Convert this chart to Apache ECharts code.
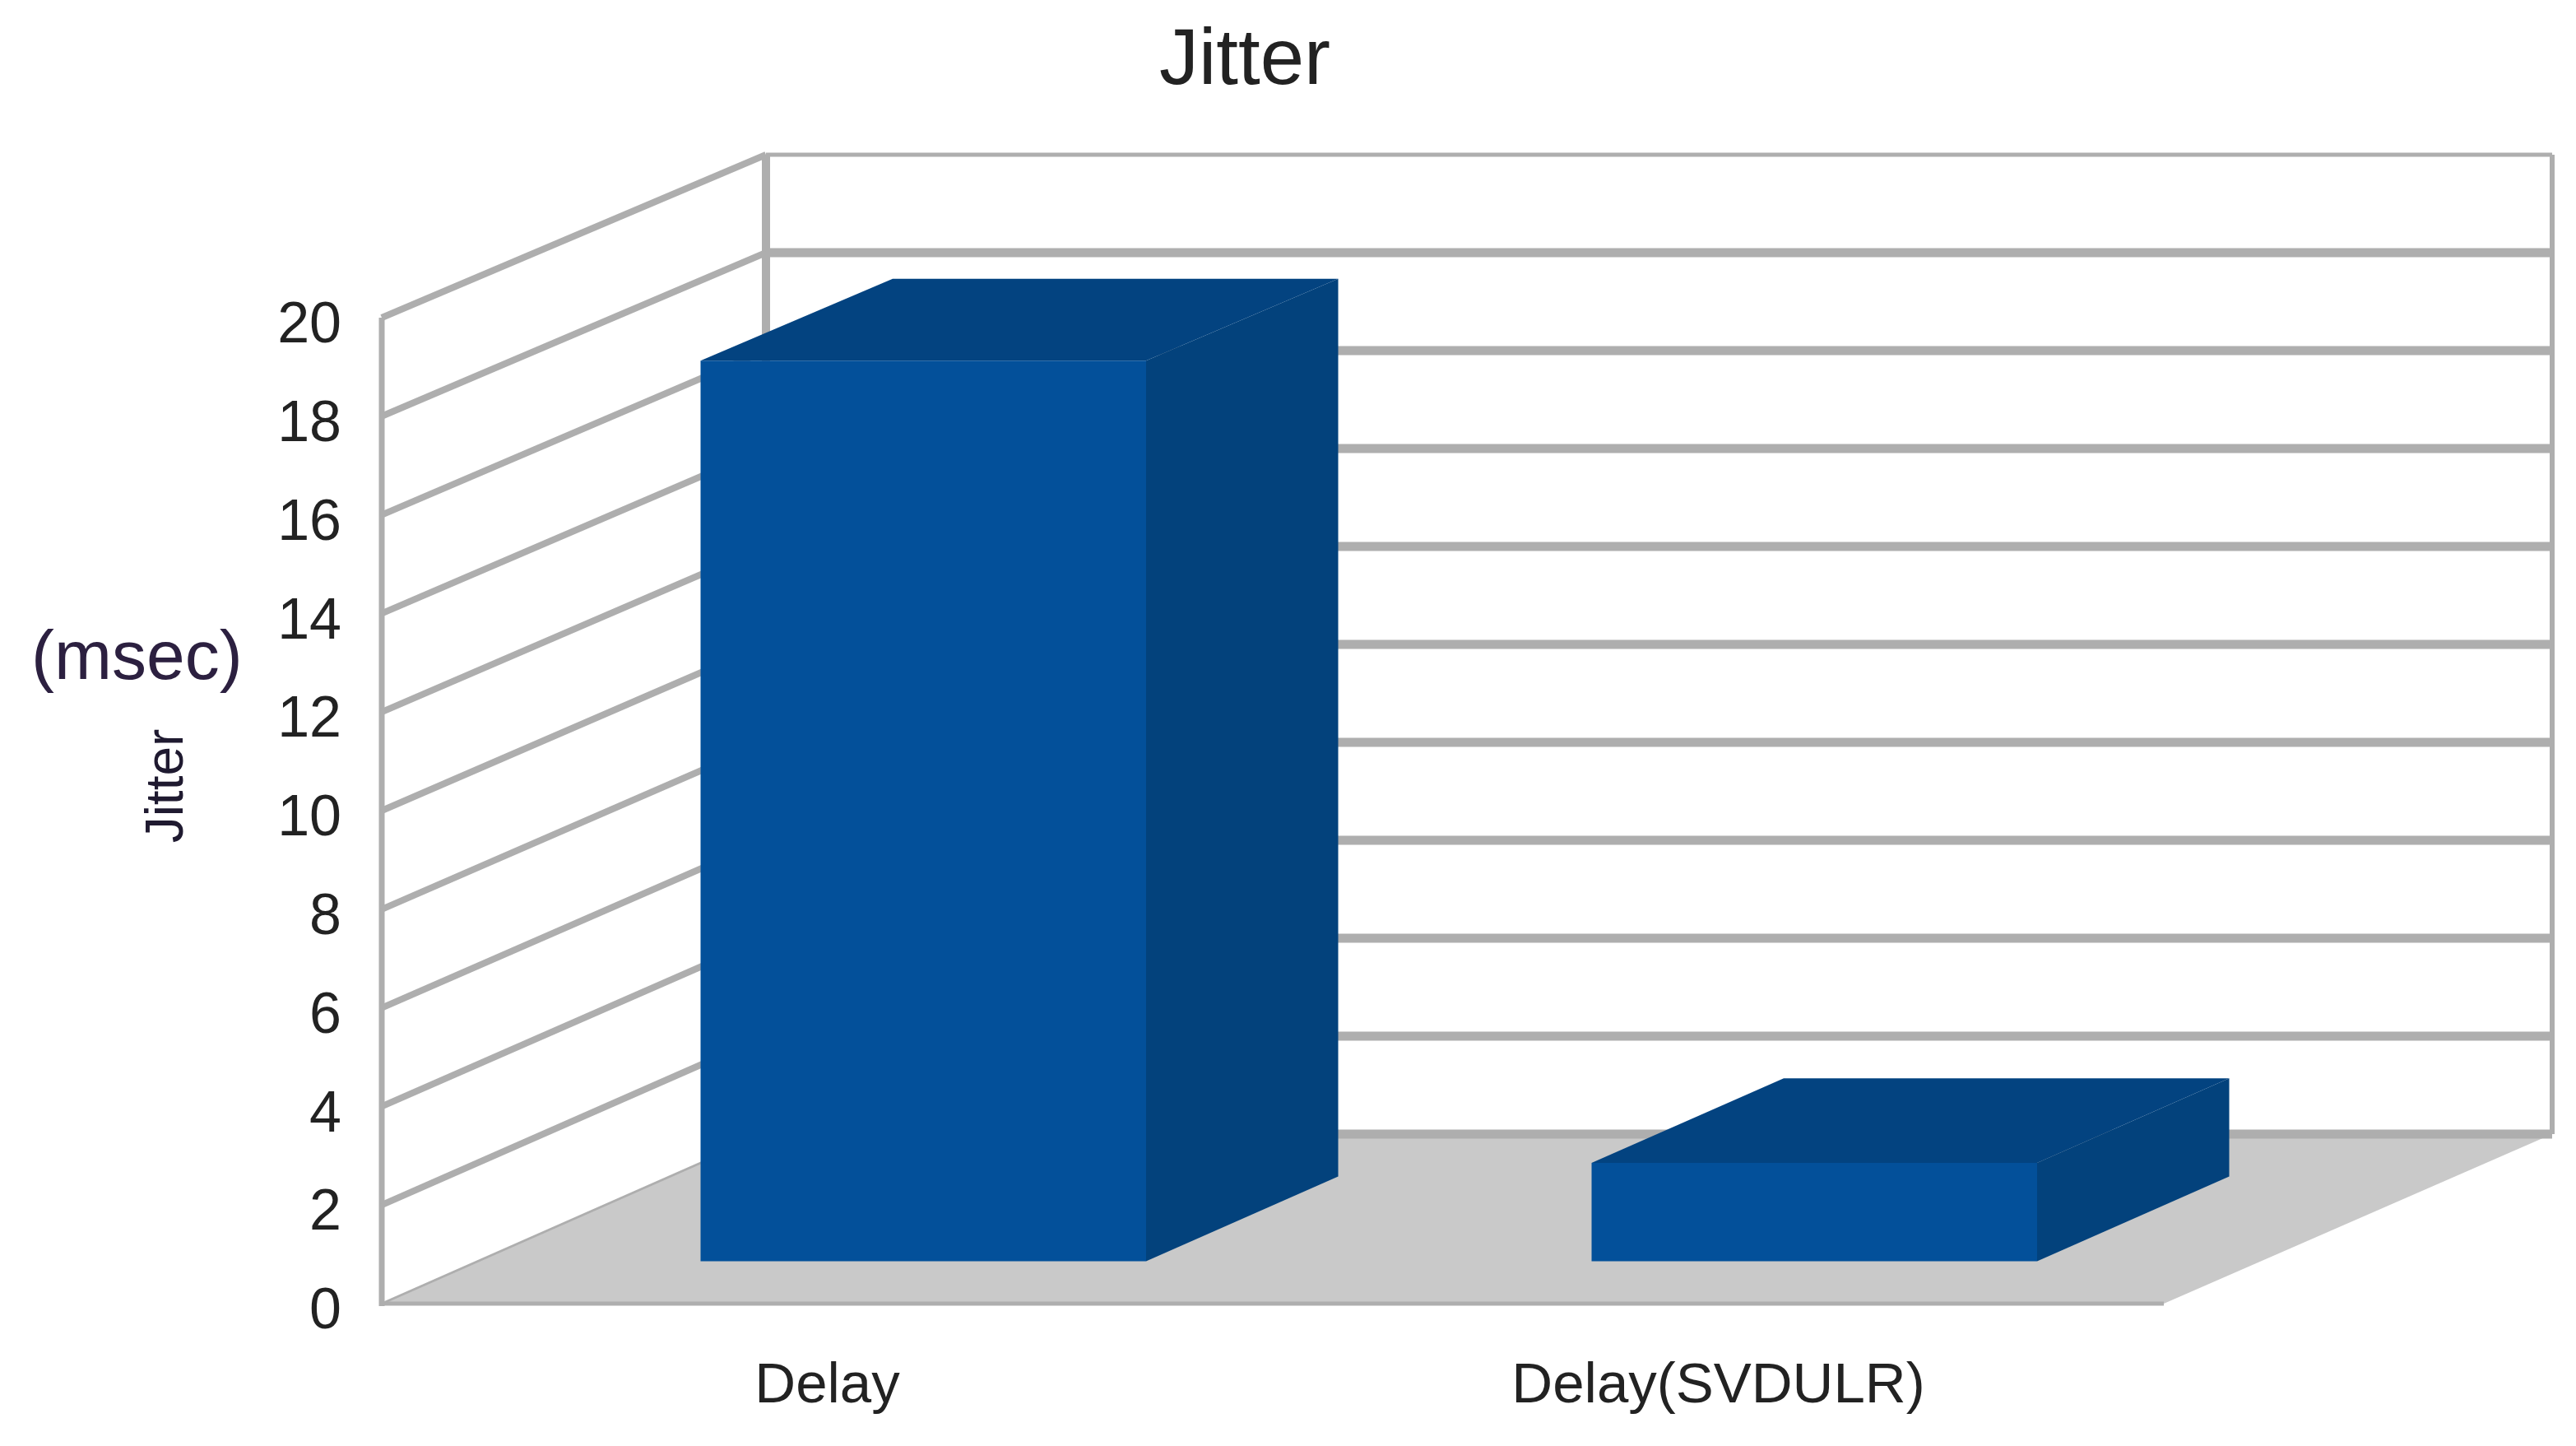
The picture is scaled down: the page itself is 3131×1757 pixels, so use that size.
<!DOCTYPE html>
<html>
<head>
<meta charset="utf-8">
<style>html,body{margin:0;padding:0;background:#fff}#chart{width:3131px;height:1757px}</style>
<script src="https://cdn.jsdelivr.net/npm/echarts@6/dist/echarts.min.js"></script>
</head>
<body>
<div id="chart"></div>
<script>
var categories = ['Delay', 'Delay(SVDULR)'];
var jitterValues = [18.3, 2.0];
var tickValues = [0, 2, 4, 6, 8, 10, 12, 14, 16, 18, 20];

var FONT = '"Liberation Sans", Arial, sans-serif';
var LINE = '#aeaeae';
var DEPTH_X = 467, DEPTH_Y = 206, DEPTH_SHRINK = 8, BACK_WIDEN = 5;
var BAR_NEAR = 0.25, BAR_FAR = 0.75, BAR_RATIO = 0.5;

function proj(x, y, v, d) {
  return [x + d * DEPTH_X, y - d * (DEPTH_Y - DEPTH_SHRINK * v / 20)];
}
function poly(points, fill) {
  return { type: 'polygon', shape: { points: points }, style: { fill: fill } };
}
function seg(a, b, width) {
  return { type: 'line', shape: { x1: a[0], y1: a[1], x2: b[0], y2: b[1] },
    style: { stroke: LINE, lineWidth: width, lineCap: 'butt' } };
}

function renderWalls(params, api) {
  var cs = params.coordSys;
  var v = api.value(1);
  var y = api.coord([0, v])[1];
  var xL = cs.x, xR = cs.x + cs.width;
  var xRB = xR + BACK_WIDEN;
  var yBase = api.coord([0, 0])[1], yTop = api.coord([0, 20])[1];
  var kids = [];
  if (v === 0) {
    kids.push(poly([[xL, yBase], [xR, yBase], proj(xRB, yBase, 0, 1), proj(xL, yBase, 0, 1)], '#c9c9c9'));
    kids.push(seg(proj(xL, yBase, 0, 1), proj(xL, yTop, 20, 1), 10));
    kids.push(seg(proj(xRB, yBase, 0, 1), proj(xRB, yTop, 20, 1), 6));
    kids.push(seg([xL, yBase + 3], [xL, yTop], 7));
    kids.push(seg([xL - 3, yBase], [xR, yBase], 5));
    kids.push(seg([xL, yBase], proj(xL, yBase, 0, 1), 3));
  } else {
    kids.push(seg([xL, y], proj(xL, y, v, 1), 8));
  }
  kids.push(seg(proj(xL, y, v, 1), proj(xRB, y, v, 1), v === 20 ? 5 : 11));
  return { type: 'group', children: kids };
}

function renderBar(params, api) {
  var base = api.coord([api.value(0), 0]);
  var v = api.value(1);
  var top = api.coord([api.value(0), v]);
  var w = api.size([1, 0])[0] * BAR_RATIO;
  var xa = base[0] - w / 2, xb = base[0] + w / 2;
  var fbl = proj(xa, base[1], 0, BAR_NEAR), fbr = proj(xb, base[1], 0, BAR_NEAR);
  var ftl = proj(xa, top[1], v, BAR_NEAR), ftr = proj(xb, top[1], v, BAR_NEAR);
  var bbr = proj(xb, base[1], 0, BAR_FAR);
  var btl = proj(xa, top[1], v, BAR_FAR), btr = proj(xb, top[1], v, BAR_FAR);
  return { type: 'group', children: [
    poly([fbr, bbr, btr, ftr], '#03427c'),
    poly([ftl, ftr, btr, btl], '#034380'),
    poly([ftl, ftr, fbr, fbl], '#03509a')
  ] };
}

var chart = echarts.init(document.getElementById('chart'), null, { renderer: 'canvas' });
chart.setOption({
  animation: false,
  backgroundColor: '#ffffff',
  title: {
    text: 'Jitter', left: 1508, top: 23, textAlign: 'center',
    textStyle: { fontFamily: FONT, fontSize: 96, fontWeight: 'normal', color: '#222222' }
  },
  grid: { left: 464, right: 501, top: 386, bottom: 173, containLabel: false },
  xAxis: {
    type: 'category', data: categories,
    axisLine: { show: false }, axisTick: { show: false }, splitLine: { show: false },
    axisLabel: { fontFamily: FONT, fontSize: 69, color: '#222222', margin: 66 }
  },
  yAxis: {
    type: 'value', min: 0, max: 20, interval: 2,
    name: 'Jitter', nameLocation: 'middle', nameGap: 228, nameRotate: 90,
    nameTextStyle: { fontFamily: FONT, fontSize: 64, color: '#1f1a30', padding: [0, 0, 0, 60] },
    axisLine: { show: false }, axisTick: { show: false }, splitLine: { show: false },
    axisLabel: { fontFamily: FONT, fontSize: 70, color: '#222222', margin: 49, verticalAlign: 'top', lineHeight: 22 }
  },
  graphic: [{
    type: 'text', left: 38, top: 760,
    style: { text: '(msec)', font: '84px ' + FONT, fill: '#2c2040' }
  }],
  series: [
    { type: 'custom', silent: true, z: 1, renderItem: renderWalls, clip: false,
      data: tickValues.map(function (t) { return [0, t]; }) },
    { type: 'custom', silent: true, z: 2, renderItem: renderBar, clip: false,
      data: jitterValues.map(function (v, i) { return [i, v]; }) }
  ]
});
</script>
</body>
</html>
